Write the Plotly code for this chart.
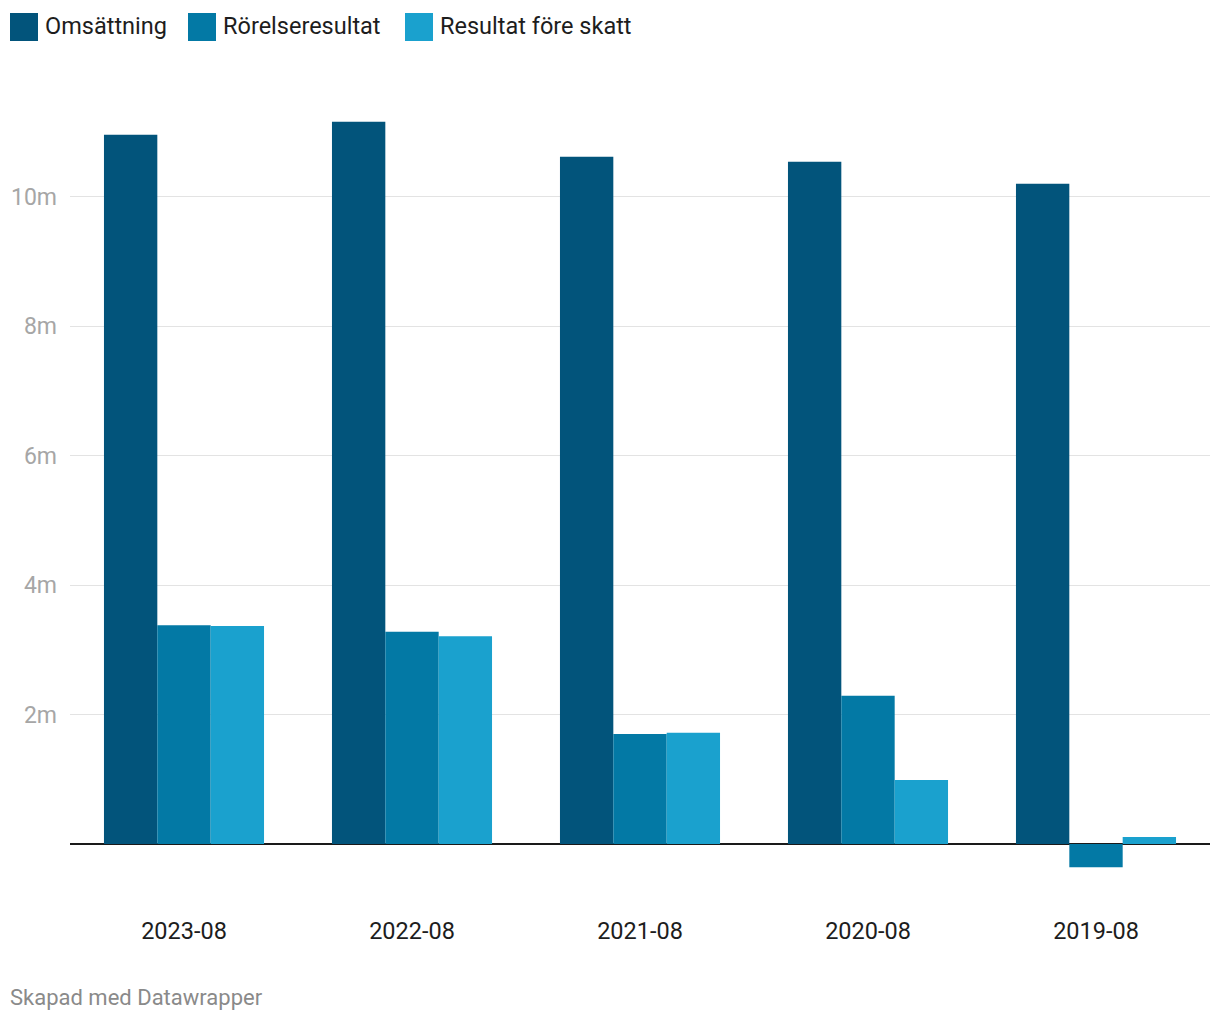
import plotly.graph_objects as go

categories = ["2023-08", "2022-08", "2021-08", "2020-08", "2019-08"]
series_names = ["Omsättning", "Rörelseresultat", "Resultat före skatt"]
omsattning = [10.96, 11.16, 10.62, 10.54, 10.20]
rorelseresultat = [3.38, 3.28, 1.70, 2.29, -0.36]
resultat_fore_skatt = [3.37, 3.21, 1.72, 0.99, 0.11]
y_tickvals = [2, 4, 6, 8, 10]
y_ticktext = ["2m", "4m", "6m", "8m", "10m"]
colors = ["#02547b", "#0379a5", "#1aa1ce"]

W, H = 1220, 1020
L, R, T, B = 70, 10, 90, 130
PW, PH = W - L - R, H - T - B

def px2x(px):
    return (px - L) / PW

def px2y(py):
    return (H - B - py) / PH

FONT = "Roboto"

fig = go.Figure()
for name, vals, c in zip(series_names, [omsattning, rorelseresultat, resultat_fore_skatt], colors):
    fig.add_trace(go.Bar(x=categories, y=vals, name=name, marker=dict(color=c, line=dict(width=0)),
                         showlegend=False))

shapes = []
annotations = []
# custom legend
legend_items = [(10, 45), (188, 223), (405, 440)]
for (sx, tx), name, c in zip(legend_items, series_names, colors):
    shapes.append(dict(type="rect", xref="paper", yref="paper",
                       x0=px2x(sx), x1=px2x(sx + 28), y0=px2y(41), y1=px2y(13),
                       fillcolor=c, line=dict(width=0), layer="above"))
    annotations.append(dict(text=name, xref="paper", yref="paper", x=px2x(tx - 2), y=px2y(26),
                            xanchor="left", yanchor="middle", showarrow=False,
                            font=dict(family=FONT, size=23.5, color="#1d1d1d")))

annotations.append(dict(text="Skapad med Datawrapper", xref="paper", yref="paper",
                        x=px2x(8), y=px2y(997), xanchor="left", yanchor="middle", showarrow=False,
                        font=dict(family=FONT, size=22, color="#8a8a8a")))

fig.update_layout(
    width=W, height=H,
    margin=dict(l=L, r=R, t=T, b=B, pad=0),
    paper_bgcolor="white", plot_bgcolor="white",
    barmode="group", bargap=0.298, bargroupgap=0,
    font=dict(family=FONT),
    shapes=shapes, annotations=annotations,
    xaxis=dict(type="category", showgrid=False, showline=False, zeroline=False, ticks="",
               tickfont=dict(family=FONT, size=23.5, color="#1d1d1d"), ticklabelstandoff=24),
    yaxis=dict(range=[-0.71, 11.65], tickvals=y_tickvals, ticktext=y_ticktext,
               showgrid=True, gridcolor="#e3e3e3", gridwidth=1,
               zeroline=True, zerolinecolor="#1a1a1a", zerolinewidth=2,
               showline=False, ticks="",
               tickfont=dict(family=FONT, size=23, color="#a6a6a6"), ticklabelstandoff=12),
)

fig.write_html("out.html", config={"displayModeBar": False},
               post_script="document.body.style.margin='0';document.body.style.overflow='hidden';")
